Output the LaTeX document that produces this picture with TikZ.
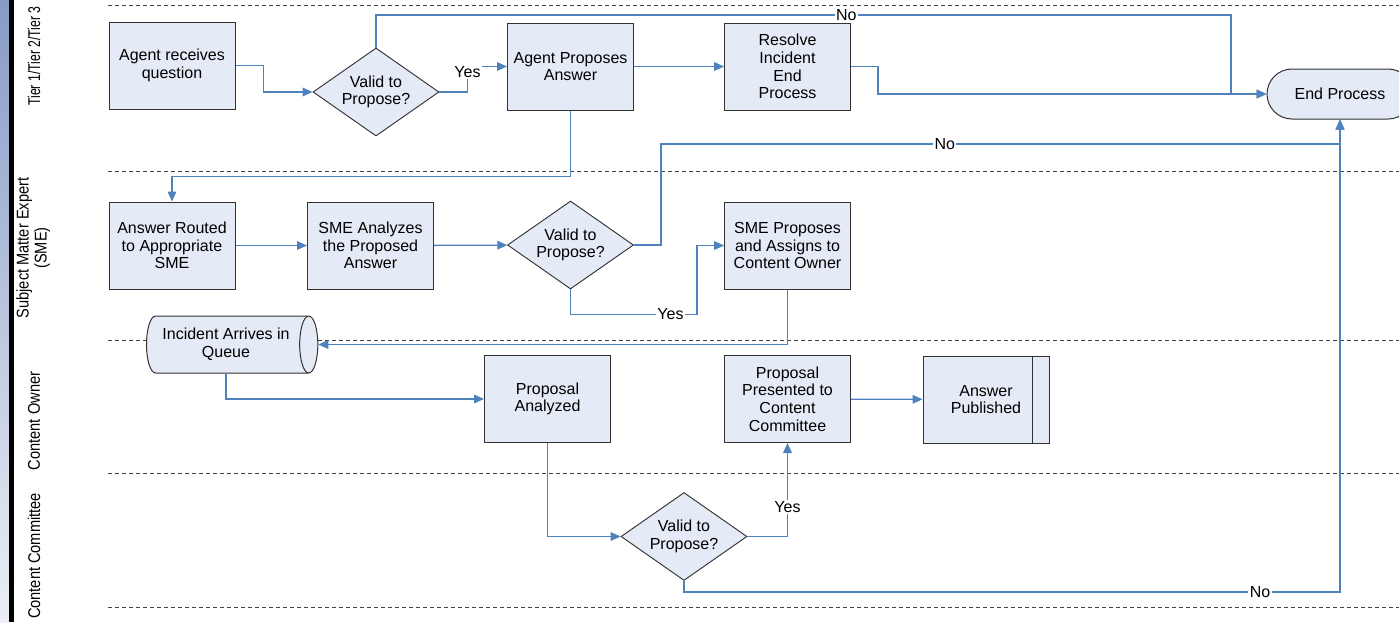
\documentclass[tikz,border=0pt]{standalone}
\usepackage{fontspec}
\setmainfont{Liberation Sans}
\usetikzlibrary{arrows.meta,shapes.geometric}
\definecolor{lineblue}{RGB}{79,129,189}
\definecolor{boxfill}{RGB}{229,235,246}
\definecolor{boxdraw}{RGB}{50,50,50}
\definecolor{barblue}{RGB}{135,155,198}
\definecolor{barpale}{RGB}{236,239,245}
\begin{document}
\begin{tikzpicture}[x=0.75pt,y=-0.75pt,
  every node/.style={font=\fontsize{12}{13.2}\selectfont},
  box/.style={draw=boxdraw, line width=0.75pt, fill=boxfill, minimum width=94.5pt, minimum height=65.25pt, align=center, inner sep=2pt},
  decision/.style={diamond, aspect=1.43, draw=boxdraw, line width=0.7pt, fill=boxfill, minimum width=94.5pt, minimum height=66pt, inner sep=0pt, align=center},
  terminal/.style={draw=boxdraw, line width=0.75pt, fill=boxfill, rounded corners=18.75pt, minimum width=109.5pt, minimum height=37.5pt},
  queue/.style={cylinder, draw=boxdraw, line width=0.75pt, fill=boxfill, aspect=0.52, minimum height=128.5pt, minimum width=42.75pt, align=center, inner sep=1pt},
  flow/.style={draw=lineblue, line width=1pt, -{Triangle[length=7.5pt,width=6.5pt]}},
  lbl/.style={fill=white, inner sep=1pt},
  lane/.style={draw=black!75, dash pattern=on 3pt off 2.25pt, line width=0.7pt},
  lanelabel/.style={rotate=90, inner sep=0pt, font=\fontsize{12.75}{13.5}\selectfont}]
\useasboundingbox (0,0) rectangle (1399,622);
\clip (0,0) rectangle (1399,622);
% left bars
\shade[top color=barblue, bottom color=barpale] (0,0) rectangle (9,622);
\fill[black] (9,0) rectangle (14,622);
% lane separators
\draw[lane] (108,5) -- (1399,5);
\draw[lane] (108,171) -- (1399,171);
\draw[lane] (108,340) -- (1399,340);
\draw[lane] (108,473) -- (1399,473);
\draw[lane] (108,607) -- (1399,607);
% lane labels
\node[lanelabel] (l1) at (34,56) {\scalebox{0.72}[1]{Tier 1/Tier 2/Tier 3}};
\node[lanelabel] (l2) at (34,248) {\scalebox{0.86}[1]{\begin{tabular}{@{}c@{}}Subject Matter Expert\\(SME)\end{tabular}}};
\node[lanelabel] (l3) at (34,421) {\scalebox{0.86}[1]{Content Owner}};
\node[lanelabel] (l4) at (34,556) {\scalebox{0.86}[1]{Content Committee}};
% nodes
\node[box] (recv) at (172,65.5) {Agent receives\\question};
\node[decision] (d1) at (376,92) {Valid to\\Propose?};
\node[box] (ap) at (570.5,66.5) {Agent Proposes\\Answer};
\node[box] (res) at (787.5,66.5) {Resolve\\Incident\\End\\Process};
\node[terminal] (endp) at (1340,94) {End Process};
\node[box] (route) at (172,245.5) {Answer Routed\\to Appropriate\\SME};
\node[box] (sma) at (370.5,245.5) {SME Analyzes\\the Proposed\\Answer};
\node[decision] (d2) at (570.5,245) {Valid to\\Propose?};
\node[box] (smep) at (787.5,245.5) {SME Proposes\\and Assigns to\\Content Owner};
\node[queue] (queue) at (226,344.5) {Incident Arrives in\\Queue};
\node[box] (pa) at (547.5,399) {Proposal\\Analyzed};
\node[box] (ppc) at (787.5,399) {Proposal\\Presented to\\Content\\Committee};
\node[box] (pub) at (986,399.5) {Answer\\Published};
\draw[boxdraw, line width=0.75pt] ([xshift=-12.75pt]pub.north east) -- ([xshift=-12.75pt]pub.south east);
\node[decision] (d3) at (684,536.5) {Valid to\\Propose?};
% connectors
\draw[flow] (recv.east) -- ++(28,0) |- (d1.west);
\draw[flow] (d1.east) -- ++(28,0) |- node[lbl,pos=0.4]{Yes} (ap.west);
\coordinate (c1) at (1231,15);
\draw[flow] (d1.north) |- node[lbl,pos=0.775]{No} (c1) |- (endp.west);
\draw[flow] (ap) -- (res);
\draw[flow] (res.east) -- ++(27,0) |- (endp.west);
\draw[flow] (ap.south) -- ++(0,66) -| (route.north);
\draw[flow] (route) -- (sma);
\draw[flow] (sma) -- (d2);
\draw[flow] (d2.east) -- ++(27,0) -- ++(0,-101) -| node[lbl,pos=0.209]{No} (endp.south);
\draw[flow] (d2.south) -- ++(0,25) -- node[lbl,pos=0.79]{Yes} ++(126.5,0) |- (smep.west);
\draw[flow] (smep.south) |- (queue.east);
\draw[flow] (queue.south) |- (pa.west);
\draw[flow] (pa.south) |- (d3.west);
\draw[flow] (d3.east) -| node[lbl,pos=0.658]{Yes} (ppc.south);
\draw[flow] (ppc) -- (pub);
\draw[flow] (d3.south) -- ++(0,11) -| node[lbl,pos=0.439]{No} (endp.south);
\end{tikzpicture}
\end{document}
